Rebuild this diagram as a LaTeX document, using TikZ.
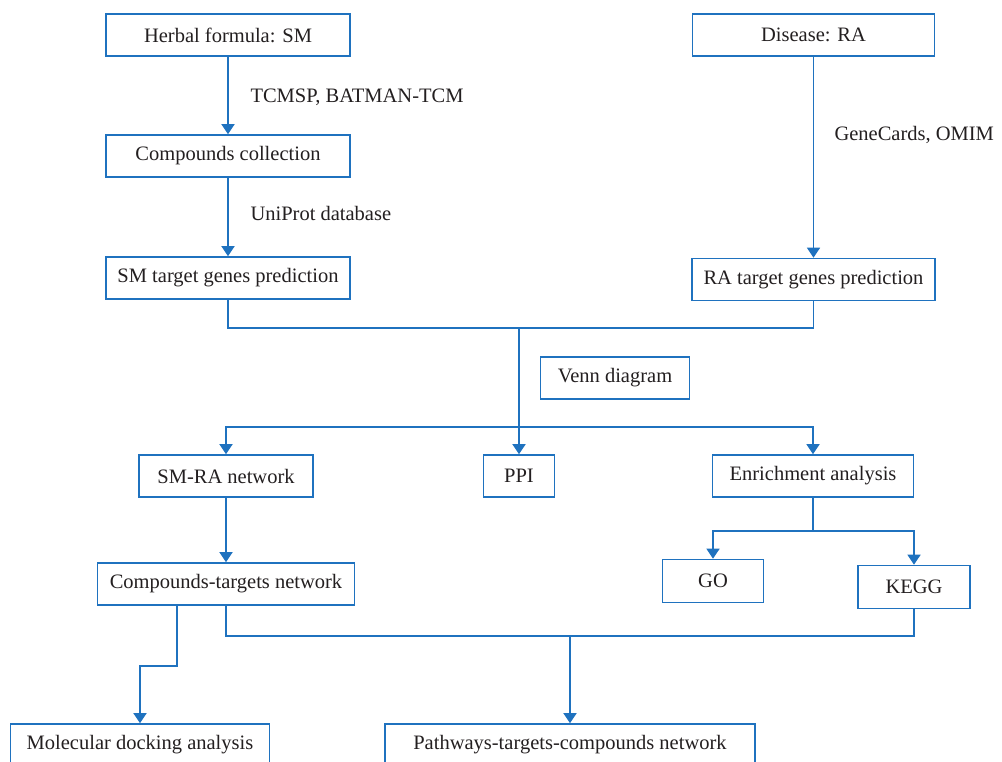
\documentclass[tikz,border=0pt]{standalone}
\usepackage{fontspec}
\setmainfont{Liberation Serif}
\usetikzlibrary{arrows.meta}
\definecolor{flowblue}{RGB}{31,114,191}
\definecolor{inkgray}{RGB}{35,31,32}

\begin{document}
\begin{tikzpicture}[x=1pt, y=-1pt,
  box/.style={draw=flowblue, line width=1.6pt, minimum height=42pt, inner sep=0pt, text=inkgray, font=\fontsize{20.5}{24}\selectfont},
  link/.style={draw=flowblue, line width=1.6pt},
  arr/.style={link, -{Triangle[width=13pt, length=10pt]}},
  lbl/.style={anchor=west, text=inkgray, font=\fontsize{20.5}{24}\selectfont}]
\useasboundingbox (0,0) rectangle (1002,762);
\clip (0,0) rectangle (1002,762);
% boxes
\node[box, minimum width=244pt] (herb) at (228,35) {Herbal formula: SM};
\node[box, minimum width=242pt] (disease) at (813.5,35) {Disease: RA};
\node[box, minimum width=244pt] (comp) at (228,156) {Compounds collection};
\node[box, minimum width=244pt] (smgene) at (228,278) {SM target genes prediction};
\node[box, minimum width=243pt] (ragene) at (813.5,279.5) {RA target genes prediction};
\node[box, minimum width=149pt] (venn) at (615,378) {Venn diagram};
\node[box, minimum width=174pt] (smra) at (226,476) {SM-RA network};
\node[box, minimum width=71pt] (ppi) at (519,476) {PPI};
\node[box, minimum width=201pt] (enrich) at (813,476) {Enrichment analysis};
\node[box, minimum width=101pt, minimum height=43pt] (go) at (713,581) {GO};
\node[box, minimum width=112pt, minimum height=43pt] (kegg) at (914,587) {KEGG};
\node[box, minimum width=257pt] (ctnet) at (226,584) {Compounds-targets network};
\node[box, minimum width=259pt] (dock) at (140,745) {Molecular docking analysis};
\node[box, minimum width=370pt] (path) at (570,745) {Pathways-targets-compounds network};
% labels
\node[lbl] (tcmsp) at (247,97) {TCMSP, BATMAN-TCM};
\node[lbl] (uniprot) at (247,213) {UniProt database};
\node[lbl] (genecards) at (831,135) {GeneCards, OMIM};
% connectors
\draw[arr] (herb) -- (comp);
\draw[arr] (comp) -- (smgene);
\draw[arr] (disease) -- (ragene);
\coordinate (join) at (519,328);
\coordinate (split) at (519,427);
\draw[link] (smgene.south) |- (join) -| (ragene.south);
\draw[link] (join) -- (split);
\draw[arr] (split) -| (smra.north);
\draw[arr] (split) -- (ppi.north);
\draw[arr] (split) -| (enrich.north);
\draw[arr] (smra) -- (ctnet);
\coordinate (fork) at (813,531);
\draw[link] (enrich.south) -- (fork);
\draw[arr] (fork) -| (go.north);
\draw[arr] (fork) -| (kegg.north);
\coordinate (merge) at (570,636);
\draw[link] (ctnet.south) |- (merge) -| (kegg.south);
\draw[arr] (merge) -- (path.north);
\coordinate (bend) at (177,666);
\draw[arr] (ctnet.south -| bend) -- (bend) -| (dock.north);
\end{tikzpicture}
\end{document}
